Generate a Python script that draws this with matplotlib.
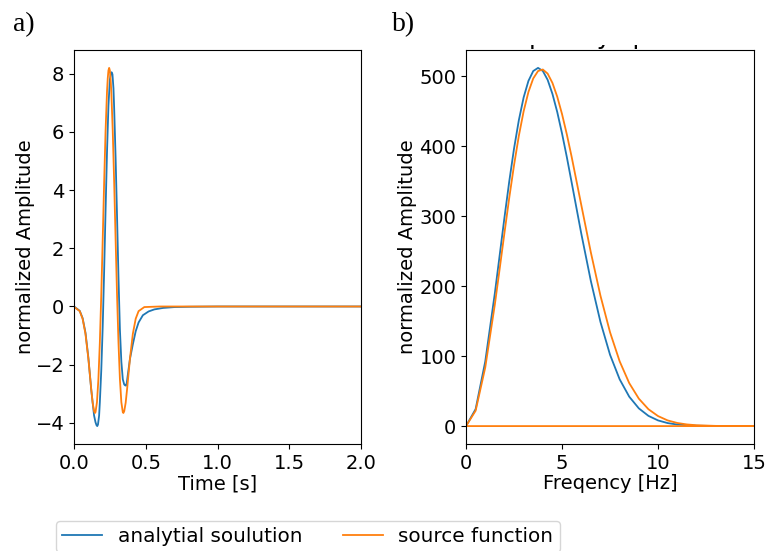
import numpy as np
import matplotlib.pyplot as plt
from matplotlib.patches import Rectangle

plt.rcParams['font.size'] = 14

# time domain (s) and normalized amplitudes
t_ana = [0.0, 0.04, 0.06, 0.08, 0.10, 0.12, 0.14, 0.15, 0.157, 0.162, 0.167, 0.175,
         0.18, 0.19, 0.20, 0.21, 0.22, 0.23, 0.24, 0.25, 0.256, 0.262, 0.268, 0.275,
         0.28, 0.29, 0.30, 0.31, 0.32, 0.33, 0.34, 0.35, 0.356, 0.362, 0.368, 0.375,
         0.39, 0.41, 0.43, 0.45, 0.48, 0.52, 0.56, 0.62, 0.70, 0.80, 1.0, 2.0]
a_ana = [0.0, -0.15, -0.40, -0.90, -1.75, -2.85, -3.75, -3.98, -4.08, -4.11, -4.06, -3.75,
         -3.3, -2.2, -0.7, 1.2, 3.3, 5.3, 6.9, 7.8, 7.98, 8.05, 7.98, 7.5,
         6.8, 5.1, 3.1, 1.0, -0.8, -1.9, -2.5, -2.68, -2.71, -2.72, -2.62, -2.35,
         -1.8, -1.3, -0.85, -0.55, -0.3, -0.17, -0.1, -0.05, -0.02, -0.01, 0.0, 0.0]

t_src = [0.0, 0.04, 0.06, 0.08, 0.10, 0.12, 0.13, 0.14, 0.146, 0.15, 0.16, 0.17,
         0.18, 0.19, 0.20, 0.21, 0.22, 0.23, 0.235, 0.24, 0.245, 0.25, 0.255, 0.26,
         0.27, 0.28, 0.29, 0.30, 0.31, 0.32, 0.33, 0.34, 0.344, 0.35, 0.36, 0.37,
         0.39, 0.41, 0.43, 0.45, 0.49, 0.6, 2.0]
a_src = [-0.01, -0.16, -0.42, -0.94, -1.79, -2.84, -3.31, -3.60, -3.66, -3.63, -3.29, -2.50,
         -1.25, 0.39, 2.29, 4.25, 6.03, 7.38, 7.83, 8.11, 8.2, 8.11, 7.83, 7.38,
         6.03, 4.25, 2.29, 0.39, -1.25, -2.50, -3.29, -3.63, -3.66, -3.60, -3.31, -2.84,
         -1.79, -0.94, -0.42, -0.16, -0.02, 0.0, 0.0]

# amplitude spectra (Hz)
f_ana = [0.0, 0.5, 1.0, 1.5, 1.75, 2.0, 2.25, 2.5, 2.75, 3.0, 3.25, 3.5, 3.75, 4.0,
         4.25, 4.5, 4.75, 5.0, 5.25, 5.5, 6.0, 6.5, 7.0, 7.5, 8.0, 8.5, 9.0, 9.5,
         10.0, 10.5, 11.0, 12.0, 13.0, 15.0]
s_ana = [0, 24.3, 92.2, 189.8, 243.8, 297.9, 349.6, 396.7, 437.2, 469.8, 493.4, 507.5,
         512, 507.6, 494.9, 474.8, 448.9, 418.2, 384.4, 348.3, 275.4, 207.4, 148.9,
         101.9, 66.9, 42.0, 25.3, 14.6, 8.1, 4.3, 2.2, 0.5, 0.1, 0]

f_src = [0.0, 0.5, 1.0, 1.5, 1.75, 2.0, 2.25, 2.5, 2.75, 3.0, 3.25, 3.5, 3.75, 4.0,
         4.25, 4.5, 4.75, 5.0, 5.25, 5.5, 6.0, 6.5, 7.0, 7.5, 8.0, 8.5, 9.0, 9.5,
         10.0, 10.5, 11.0, 11.5, 12.0, 13.0, 14.0, 15.0, 0.0]
s_src = [0, 22.0, 83.7, 173.8, 224.5, 276.0, 326.2, 373.0, 414.9, 450.0, 477.6, 496.9,
         507.5, 509.7, 503.8, 490.5, 470.8, 445.9, 416.9, 384.9, 316.3, 248.3, 186.4,
         134.1, 92.6, 61.4, 39.2, 24.1, 14.3, 8.1, 4.45, 2.36, 1.2, 0.28, 0.05, 0, 0]

fig = plt.figure(figsize=(7.66, 5.51), dpi=100)
ax1 = fig.add_axes([0.0966, 0.1942, 0.3747, 0.7151])
ax2 = fig.add_axes([0.6084, 0.1942, 0.376, 0.7151])

lw = 1.3
ax1.plot(t_ana, a_ana, color='tab:blue', lw=lw, label='analytial soulution')
ax1.plot(t_src, a_src, color='tab:orange', lw=lw, label='source function')
ax1.set_xlim(0, 2)
ax1.set_xticks([0.0, 0.5, 1.0, 1.5, 2.0])
ax1.set_yticks([-4, -2, 0, 2, 4, 6, 8])
ax1.set_xlabel('Time [s]', labelpad=1)
ax1.set_ylabel('normalized Amplitude', labelpad=0.5)

ax2.plot(f_ana, s_ana, color='tab:blue', lw=lw)
ax2.plot(f_src, s_src, color='tab:orange', lw=lw)
ax2.set_xlim(0, 15)
ax2.set_xticks([0, 5, 10, 15])
ax2.set_xlabel('Freqency [Hz]', labelpad=1)
ax2.set_ylabel('normalized Amplitude', labelpad=2)
ax2.set_title('Frequency spectrum', fontsize=18, pad=4)

# the title got trimmed off, only the descenders remain
fig.patches.append(Rectangle((470 / 766, 1 - 45 / 551), 290 / 766, 45 / 551,
                             transform=fig.transFigure, facecolor='white',
                             edgecolor='none', zorder=5))

fig.text(13 / 766, 1 - 31 / 551, 'a)', family='Liberation Serif', fontsize=20, zorder=6)
fig.text(392 / 766, 1 - 31 / 551, 'b)', family='Liberation Serif', fontsize=20, zorder=6)

fig.legend(*ax1.get_legend_handles_labels(), loc='upper left', ncol=2,
           fontsize=14.4, bbox_to_anchor=(56 / 766, 1 - 521 / 551), borderaxespad=0,
           borderpad=0.3)

fig.savefig('out.png', dpi=100)
